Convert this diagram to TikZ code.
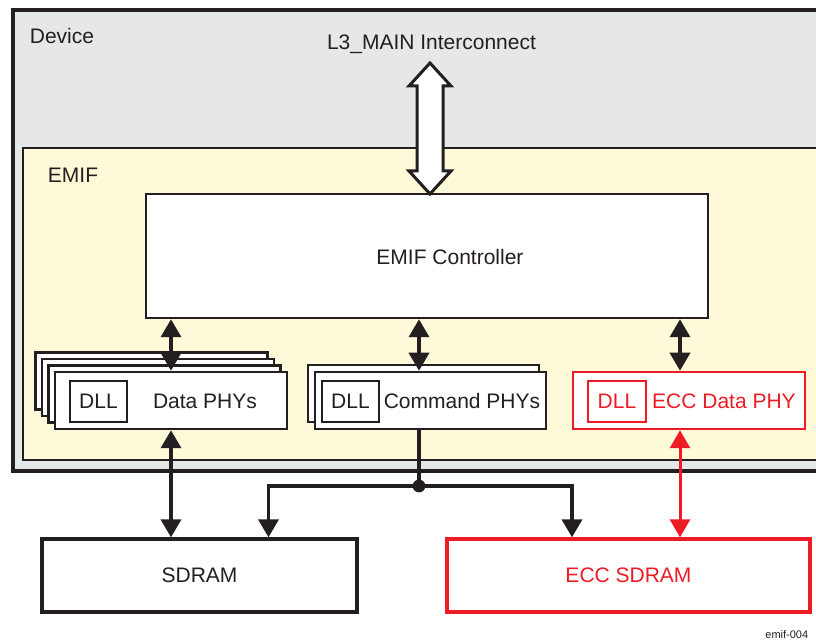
\documentclass[tikz,border=0pt]{standalone}
\usepackage{fontspec}
\setmainfont{Liberation Sans}
\usetikzlibrary{arrows.meta,calc}

\definecolor{devgray}{HTML}{E6E7E8}
\definecolor{emifyellow}{HTML}{FEF9D8}
\definecolor{eccred}{HTML}{ED1C24}
\definecolor{ink}{HTML}{231F20}

\tikzset{
  lbl/.style={font=\fontsize{10.5}{12}\selectfont, text=ink, inner sep=0pt},
  box/.style={draw=ink, line width=1.25pt, fill=white, inner sep=0pt, lbl},
  phybox/.style={box, minimum width=116pt, minimum height=28.5pt},
  dllbox/.style={box, minimum width=28.5pt, minimum height=20.5pt},
  membox/.style={box, line width=1.65pt, minimum height=36.5pt},
  redbox/.style={draw=eccred, text=eccred},
  biarrow/.style={draw=ink, line width=1.8pt, {Triangle[width=10pt,length=9pt]}-{Triangle[width=10pt,length=9pt]}},
  onearrow/.style={draw=ink, line width=1.8pt, -{Triangle[width=10pt,length=9pt]}},
  redarrow/.style={draw=eccred, line width=1.5pt, {Triangle[width=10pt,length=9pt]}-{Triangle[width=10pt,length=9pt]}},
}

\begin{document}
\begin{tikzpicture}[x=0.5pt, y=-0.5pt]
\useasboundingbox (0,0) rectangle (816,640);

% Device and EMIF frames
\draw[ink, line width=2pt, fill=devgray] (13,10) rectangle (840,471);
\draw[ink, line width=1.25pt, fill=emifyellow] (23,148) rectangle (835,460);
\node[lbl] (devtxt) at (62,36) {Device};
\node[lbl] (emiftxt) at (73,175) {EMIF};
\node[lbl] (l3) at (431.5,44) {L3\_MAIN Interconnect};

% Controller
\node[box, minimum width=281pt, minimum height=62pt] (ctrl) at (427,256) {};
\node[lbl] (ctrltxt) at (450,257) {EMIF Controller};

% Interconnect bus (hollow double arrow)
\coordinate (bustop) at (430,63);
\coordinate (busbot) at (430,194);
\draw[ink, line width=1.5pt, fill=white, line join=miter]
  (bustop) -- ++(21,23) -- ++(-8,0) -- ++(0,85) -- ++(8,0) -- (busbot)
  -- ++(-21,-23) -- ++(8,0) -- ++(0,-85) -- ++(-8,0) -- cycle;

% Data PHYs (stacked)
\foreach \k in {3,2,1}
  \node[phybox] (databack\k) at (171-6.5*\k, 400.5-6.5*\k) {};
\node[phybox] (data) at (171,400.5) {};
\node[dllbox] (datadll) at (98.5,401.5) {DLL};
\node[lbl] (datatxt) at (205,401) {Data PHYs};

% Command PHYs (stacked)
\node[phybox, minimum width=115.5pt] (cmdback) at (423.5,393.5) {};
\node[phybox, minimum width=115.5pt] (cmd) at (430.5,400.5) {};
\node[dllbox] (cmddll) at (350.5,401.5) {DLL};
\node[lbl] (cmdtxt) at (462,401) {Command PHYs};

% ECC Data PHY
\node[phybox, redbox] (ecc) at (689,400.5) {};
\node[dllbox, redbox, minimum width=29pt] (eccdll) at (617,401.5) {DLL};
\node[lbl, text=eccred] (ecctxt) at (724,401) {ECC Data PHY};

% Memories
\node[membox, minimum width=157.5pt] (sdram) at (199.5,575.5) {SDRAM};
\node[membox, redbox, minimum width=181.5pt] (eccsdram) at (628.5,575.5) {ECC SDRAM};

% Controller to PHYs
\coordinate (cmdport) at ([xshift=-5.75pt]cmd.north);
\coordinate (eccport) at ([xshift=-4.5pt]ecc.north);
\draw[biarrow] (data.north |- ctrl.south) -- (data.north);
\draw[biarrow] (cmdport |- ctrl.south) -- (cmdport);
\draw[biarrow] (eccport |- ctrl.south) -- (eccport);

% PHYs to memories
\draw[biarrow] (data.south) -- (data.south |- sdram.north);
\draw[redarrow] (eccport |- ecc.south) -- (eccport |- eccsdram.north);

% Command bus to both memories
\coordinate (jn) at (cmdport |- 0,486);
\coordinate (sdin) at ([xshift=34.5pt]sdram.north);
\coordinate (eccin) at ([xshift=-28.25pt]eccsdram.north);
\draw[ink, line width=1.8pt] (cmdport |- cmd.south) -- (jn);
\draw[onearrow] (jn) -| (sdin);
\draw[onearrow] (jn) -| (eccin);
\fill[ink] (jn) circle (3.2pt);

\node[font=\fontsize{5.5}{6}\selectfont, text=ink, anchor=west, inner sep=0pt] (figid) at (765,635) {emif-004};

\end{tikzpicture}
\end{document}
